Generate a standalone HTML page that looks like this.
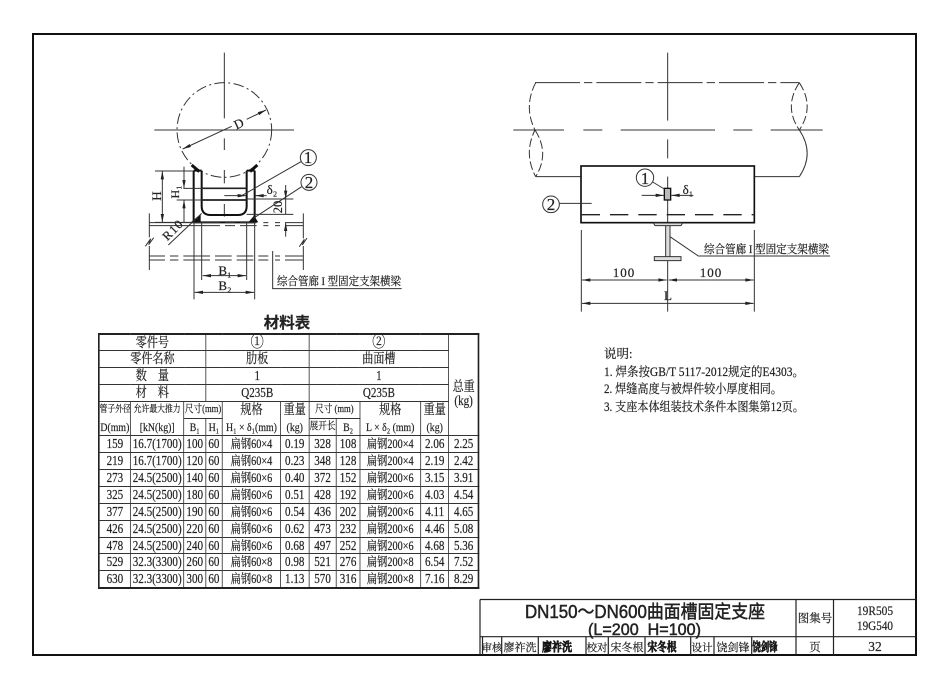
<!DOCTYPE html>
<html><head><meta charset="utf-8"><style>
html,body{margin:0;padding:0;background:#fff}
#p{position:relative;width:950px;height:691px;overflow:hidden;background:#fff;filter:blur(.35px);font-family:"Liberation Serif","Noto Serif CJK SC",serif;color:#222}
svg{position:absolute;left:0;top:0}
#t{position:absolute;left:97.5px;top:333px;transform:scaleX(.82);transform-origin:0 0;border-collapse:collapse;table-layout:fixed;width:463px;border:2px solid #222;font-size:13.5px;-webkit-text-stroke:.2px #222}
#t td{border:1px solid #333;padding:0;text-align:center;white-space:nowrap;overflow:visible;line-height:14px}
#t tr{height:16.93px}
#t td.n{border-bottom:none}
#t td.o{border-top:none}
.s{font-size:9.5px}
.m{font-size:12px}
.u{font-size:10.5px}
.f{font-size:12.5px}
text{font-family:"Liberation Serif","Noto Serif CJK SC",serif;fill:#222;stroke:#222;stroke-width:.2px}
</style></head><body><div id="p">
<svg width="950" height="691" viewBox="0 0 950 691">
<defs>
<marker id="a" viewBox="0 0 10 4" refX="10" refY="2" markerWidth="30" markerHeight="10" markerUnits="userSpaceOnUse" orient="auto-start-reverse"><path d="M0 0L10 2L0 4z" fill="#222"/></marker>
</defs>
<rect x="33" y="34" width="883" height="621" fill="none" stroke="#111" stroke-width="2"/>

<!-- left drawing -->
<g transform="translate(120,50) scale(.33333)" fill="none" stroke="#333" stroke-width="3">
<circle cx="313" cy="240" r="142" stroke-dasharray="32 10 6 10" stroke-width="3"/>
<path d="M313 8V205M313 265V300M313 360V400M313 462V500M103 240H522"/>
<path d="M188 297L335 229" marker-start="url(#a)"/>
<path d="M380 208L438 180" marker-end="url(#a)"/>
<path d="M215 345L238 365M412 345L390 365" stroke="#111" stroke-width="9"/>
<path d="M221 362V517H404V362M245 362V468Q245 495 272 495H354Q380 495 380 468V362M221 362H245M380 362H404" stroke="#111" stroke-width="6"/>
<path d="M245 415H380M245 450H380" stroke="#222" stroke-width="5"/>
<path d="M212 517L242 492V517ZM385 517L402 497L415 517Z" fill="#111" stroke="none"/>
<path d="M88 518H300M315 518H345M360 518H410M430 518H445M465 518H480M495 518H550M88 527H300M315 527H345M360 527H410M430 527H445M465 527H480M495 527H550"/>
<path d="M88 618H135M150 618H175M190 618H270M285 618H335M350 618H400M415 618H445M465 618H480M495 618H550M88 630H135M150 630H175M190 630H270M285 630H335M350 630H400M415 630H445M465 630H480M495 630H550"/>
<path d="M88 490V562M76 589L92 566L86 584L101 563M88 588V660M550 490V565M538 590L553 568L547 585L561 564M550 588V660"/>
<path d="M105 363H220M105 517H220"/>
<path d="M127 440V363" marker-end="url(#a)"/><path d="M127 440V517" marker-end="url(#a)"/>
<path d="M192 350V415" marker-end="url(#a)"/><path d="M192 517V450" marker-end="url(#a)"/>
<path d="M190 415H245M170 450H245"/>
<path d="M313 437H378" marker-end="url(#a)"/><path d="M440 437H406" marker-end="url(#a)"/>
<path d="M380 447H520M380 493H520"/>
<path d="M497 405V447" marker-end="url(#a)"/><path d="M497 560V518" marker-end="url(#a)"/><path d="M497 447V493"/>
<circle cx="565" cy="323" r="24"/><circle cx="567" cy="397" r="24"/>
<path d="M543 335L365 437M545 410L400 505M145 585L245 490"/>
<path d="M222 517V748M404 517V748M245 517V690M380 517V690"/>
<path d="M313 677H248" marker-end="url(#a)"/><path d="M313 677H378" marker-end="url(#a)"/>
<path d="M313 727H224" marker-end="url(#a)"/><path d="M313 727H402" marker-end="url(#a)"/>
<path d="M458 603V716H845"/>
</g>
<g font-size="13">
<text x="239" y="128" transform="rotate(-25 239 124)" text-anchor="middle">D</text>
<text x="308" y="163" font-size="17" text-anchor="middle">1</text>
<text x="309" y="188" font-size="17" text-anchor="middle">2</text>
<text x="157" y="200" transform="rotate(-90 157 196)" text-anchor="middle" font-size="13">H</text>
<text x="175" y="196" transform="rotate(-90 175 192)" text-anchor="middle" font-size="12">H₁</text>
<text x="272" y="194" text-anchor="middle" font-size="13">δ₂</text>
<text x="278" y="211" transform="rotate(-90 278 207)" text-anchor="middle" font-size="12.5">20</text>
<text x="173" y="234" transform="rotate(-45 173 230)" text-anchor="middle" font-size="12.5" letter-spacing="1">R10</text>
<text x="225" y="275" text-anchor="middle" font-size="13">B₁</text>
<text x="225" y="290" text-anchor="middle" font-size="13">B₂</text>
<text x="277" y="285" font-size="11.5" textLength="124" lengthAdjust="spacingAndGlyphs">综合管廊 I 型固定支架横梁</text>
</g>

<!-- right drawing -->
<g transform="translate(500,50) scale(.33333)" fill="none" stroke="#333" stroke-width="3">
<path d="M105 98H898" stroke-dasharray="135 12 25 12"/>
<path d="M107 98Q70 170 105 240Q70 310 107 380M105 240Q150 310 107 380" stroke-dasharray="26 9"/>
<path d="M898 98Q850 170 898 240M898 98Q945 170 898 240" stroke-dasharray="26 9"/>
<path d="M898 240Q945 310 898 380M107 380H243M763 380H898"/>
<path d="M40 240H192M250 240H307M362 240H645M700 240H757M812 240H968"/>
<path d="M503 8V212M503 268V325M503 380V785"/>
<rect x="243" y="348" width="520" height="170" stroke="#111" stroke-width="5"/>
<path d="M245 494H760" stroke="#222" stroke-width="4" stroke-dasharray="55 30"/>
<rect x="493" y="415" width="19" height="35" fill="#bbb" stroke="#111" stroke-width="4"/>
<circle cx="435" cy="383" r="26"/><circle cx="153" cy="463" r="25"/>
<path d="M458 396L493 417M178 460H275"/>
<path d="M425 436H492" marker-end="url(#a)"/><path d="M580 436H514" marker-end="url(#a)"/>
<path d="M460 519H548L543 527H465Z M497 527H510V620H497Z M463 620H543V632H463Z" fill="#ddd"/>
<path d="M510 560L595 618H990"/>
<path d="M244 540V785M763 540V785"/>
<path d="M375 690H246" marker-end="url(#a)"/><path d="M375 690H500" marker-end="url(#a)"/>
<path d="M632 690H506" marker-end="url(#a)"/><path d="M632 690H761" marker-end="url(#a)"/>
<path d="M503 760H246" marker-end="url(#a)"/><path d="M503 760H761" marker-end="url(#a)"/>
</g>
<g font-size="13">
<text x="645" y="184" font-size="17" text-anchor="middle">1</text>
<text x="551" y="210" font-size="17" text-anchor="middle">2</text>
<text x="688" y="194" text-anchor="middle">δ₁</text>
<text x="704" y="253" font-size="11.5" textLength="125" lengthAdjust="spacingAndGlyphs">综合管廊 I 型固定支架横梁</text>
<text x="624" y="277" text-anchor="middle" letter-spacing="1">100</text>
<text x="711" y="277" text-anchor="middle" letter-spacing="1">100</text>
<text x="668" y="300" text-anchor="middle">L</text>
</g>

<!-- table title -->
<text x="287" y="328" font-size="15.5" font-weight="bold" text-anchor="middle" style="font-family:'Liberation Sans','Noto Sans CJK SC',sans-serif">材料表</text>

<!-- notes -->
<g font-size="12.5">
<text x="604" y="358">说明:</text>
<text x="604" y="376" textLength="200" lengthAdjust="spacingAndGlyphs">1. 焊条按GB/T 5117-2012规定的E4303。</text>
<text x="604" y="393" textLength="178" lengthAdjust="spacingAndGlyphs">2. 焊缝高度与被焊件较小厚度相同。</text>
<text x="604" y="411" textLength="200" lengthAdjust="spacingAndGlyphs">3. 支座本体组装技术条件本图集第12页。</text>
</g>

<!-- title block -->
<g fill="none" stroke="#222" stroke-width="1.2">
<path d="M480 599.5H916M480 599.5V655M480 636.7H916M796 599.5V655M833.5 599.5V655"/>
<path d="M482.5 636.7V655M501.7 636.7V655M538.3 636.7V655M586 636.7V655M608.3 636.7V655M645 636.7V655M690.7 636.7V655M714 636.7V655M751.7 636.7V655"/>
</g>
<text x="525" y="618" font-size="18" textLength="240" lengthAdjust="spacingAndGlyphs" style="font-family:'Liberation Sans','Noto Sans CJK SC',sans-serif;stroke-width:.5px">DN150～DN600曲面槽固定支座</text>
<text x="588" y="635" font-size="17" textLength="113" lengthAdjust="spacingAndGlyphs" style="font-family:'Liberation Sans','Noto Sans CJK SC',sans-serif;stroke-width:.5px">(L=200&#160;&#160;H=100)</text>
<g font-size="10.5" text-anchor="middle">
<text x="492" y="651">审核</text><text x="520" y="651" font-size="11">廖祚洗</text>
<text x="597" y="651">校对</text><text x="627" y="651" font-size="11">宋冬根</text>
<text x="702" y="651">设计</text><text x="733" y="651" font-size="11">饶剑锋</text>
<text x="557" y="651" font-size="12" font-weight="bold" textLength="30" lengthAdjust="spacingAndGlyphs" style="stroke:#111;stroke-width:.7px">廖祚洗</text>
<text x="662" y="651" font-size="12" font-weight="bold" textLength="29" lengthAdjust="spacingAndGlyphs" style="stroke:#111;stroke-width:.7px">宋冬根</text>
<text x="765" y="651" font-size="12" font-weight="bold" textLength="25" lengthAdjust="spacingAndGlyphs" style="stroke:#111;stroke-width:.7px">饶剑锋</text>
<text x="815" y="622" font-size="11.5">图集号</text>
<text x="815" y="651" font-size="11.5">页</text>
<text x="875" y="615" font-size="13" textLength="36" lengthAdjust="spacingAndGlyphs">19R505</text>
<text x="875" y="630" font-size="13" textLength="36" lengthAdjust="spacingAndGlyphs">19G540</text>
<text x="875" y="651" font-size="13.5">32</text>
</g>
</svg>

<table id="t">
<colgroup><col style="width:38.7px"><col style="width:65px"><col style="width:26.5px"><col style="width:20.4px"><col style="width:71.1px"><col style="width:34.5px"><col style="width:33.4px"><col style="width:28.8px"><col style="width:74px"><col style="width:34.5px"><col style="width:36.6px"></colgroup>
<tr><td colspan="3">零件号</td><td colspan="3" style="font-size:16px">①</td><td colspan="4" style="font-size:16px">②</td><td rowspan="6" style="padding-top:18px">总重<br>(kg)</td></tr>
<tr><td colspan="3">零件名称</td><td colspan="3">肋板</td><td colspan="4">曲面槽</td></tr>
<tr><td colspan="3">数　量</td><td colspan="3">1</td><td colspan="4">1</td></tr>
<tr><td colspan="3">材　料</td><td colspan="3">Q235B</td><td colspan="4">Q235B</td></tr>
<tr><td class="s n">管子外径</td><td class="s n">允许最大推力</td><td colspan="2" class="u">尺寸(mm)</td><td class="n">规格</td><td class="n">重量</td><td colspan="2" class="u">尺寸 (mm)</td><td class="n">规格</td><td class="n">重量</td></tr>
<tr><td class="m o">D(mm)</td><td class="m o">[kN(kg)]</td><td class="m">B₁</td><td class="m">H₁</td><td class="m o">H₁ × δ₁(mm)</td><td class="m o">(kg)</td><td class="u">展开长</td><td class="m">B₂</td><td class="m o">L × δ₂ (mm)</td><td class="m o">(kg)</td></tr>
<tr><td>159</td><td>16.7(1700)</td><td>100</td><td>60</td><td class="f">扁钢60×4</td><td>0.19</td><td>328</td><td>108</td><td class="f">扁钢200×4</td><td>2.06</td><td>2.25</td></tr>
<tr><td>219</td><td>16.7(1700)</td><td>120</td><td>60</td><td class="f">扁钢60×4</td><td>0.23</td><td>348</td><td>128</td><td class="f">扁钢200×4</td><td>2.19</td><td>2.42</td></tr>
<tr><td>273</td><td>24.5(2500)</td><td>140</td><td>60</td><td class="f">扁钢60×6</td><td>0.40</td><td>372</td><td>152</td><td class="f">扁钢200×6</td><td>3.15</td><td>3.91</td></tr>
<tr><td>325</td><td>24.5(2500)</td><td>180</td><td>60</td><td class="f">扁钢60×6</td><td>0.51</td><td>428</td><td>192</td><td class="f">扁钢200×6</td><td>4.03</td><td>4.54</td></tr>
<tr><td>377</td><td>24.5(2500)</td><td>190</td><td>60</td><td class="f">扁钢60×6</td><td>0.54</td><td>436</td><td>202</td><td class="f">扁钢200×6</td><td>4.11</td><td>4.65</td></tr>
<tr><td>426</td><td>24.5(2500)</td><td>220</td><td>60</td><td class="f">扁钢60×6</td><td>0.62</td><td>473</td><td>232</td><td class="f">扁钢200×6</td><td>4.46</td><td>5.08</td></tr>
<tr><td>478</td><td>24.5(2500)</td><td>240</td><td>60</td><td class="f">扁钢60×6</td><td>0.68</td><td>497</td><td>252</td><td class="f">扁钢200×6</td><td>4.68</td><td>5.36</td></tr>
<tr><td>529</td><td>32.3(3300)</td><td>260</td><td>60</td><td class="f">扁钢60×8</td><td>0.98</td><td>521</td><td>276</td><td class="f">扁钢200×8</td><td>6.54</td><td>7.52</td></tr>
<tr><td>630</td><td>32.3(3300)</td><td>300</td><td>60</td><td class="f">扁钢60×8</td><td>1.13</td><td>570</td><td>316</td><td class="f">扁钢200×8</td><td>7.16</td><td>8.29</td></tr>
</table>
</div></body></html>
